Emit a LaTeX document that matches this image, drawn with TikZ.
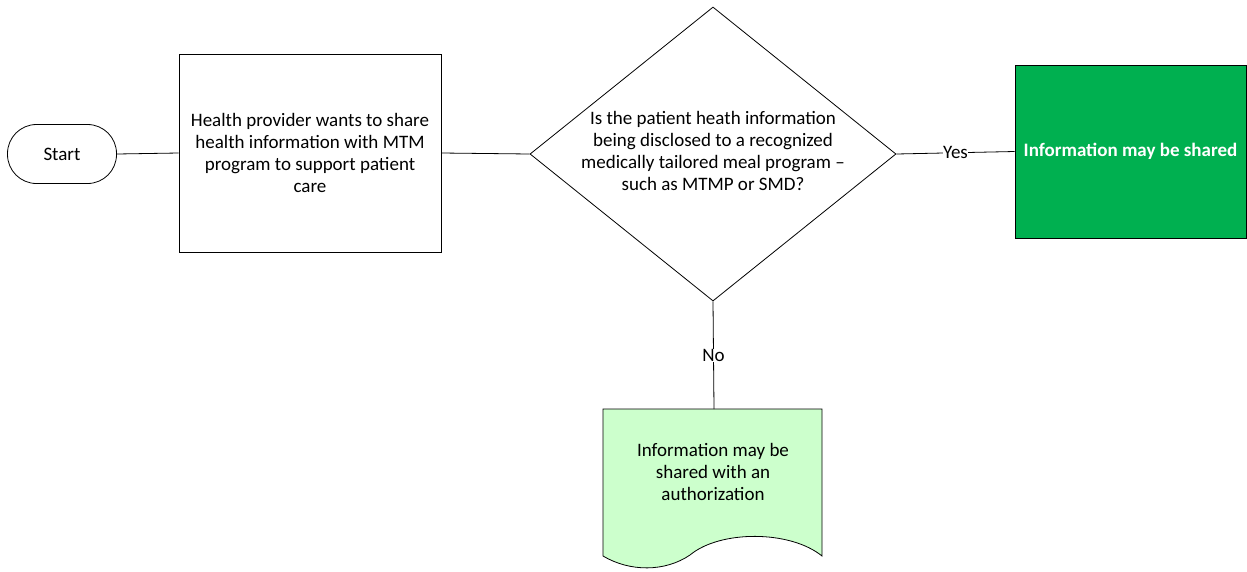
\documentclass[tikz,border=0pt]{standalone}
\usepackage{fontspec}
\setmainfont{Carlito}
\usetikzlibrary{shapes.geometric}
\definecolor{darkgreen}{HTML}{00B050}
\definecolor{lightgreen}{HTML}{CCFFCC}
\begin{document}
\begin{tikzpicture}[x=1pt,y=-1pt,
  every node/.style={font=\fontsize{19}{22.3}\selectfont},
  shp/.style={draw=black, line width=0.8pt},
  conn/.style={draw=black, line width=0.8pt},
  lbl/.style={fill=white, inner sep=0.5pt}]
\useasboundingbox (0,0) rectangle (1247,571);
\node[shp, rectangle, rounded corners=29pt, minimum width=109pt, minimum height=59pt] (start) at (62,154) {Start};
\node[shp, rectangle, minimum width=262pt, minimum height=198pt, align=center] (proc) at (310,153) {Health provider wants to share\\ health information with MTM\\ program to support patient\\ care};
\node[shp, diamond, minimum width=366pt, minimum height=294pt, inner sep=0pt] (dec) at (713,154) {};
\node[align=center] (dectext) at (713,151) {Is the patient heath information\\ being disclosed to a recognized\\ medically tailored meal program --\\ such as MTMP or SMD?};
\node[shp, rectangle, fill=darkgreen, minimum width=231pt, minimum height=173pt, text=white, font=\fontsize{19}{22.3}\selectfont\bfseries] (yes) at (1130.5,151.5) {Information may be shared};
\coordinate (doctop) at (714,409);
\draw[shp, fill=lightgreen] (603,409) -- (822,409) -- (822,556)
  .. controls (790,530) and (720,530) .. (690,555)
  .. controls (665,572) and (630,572) .. (603,556) -- cycle;
\node[align=center] (doc) at (713,472) {Information may be\\ shared with an\\ authorization};
\draw[conn] (start.east) -- (proc.west);
\draw[conn] (proc.east) -- (dec.west);
\draw[conn] (dec.east) -- node[lbl] (yeslbl) {Yes} (yes.west);
\draw[conn] (dec.south) -- node[lbl] (nolbl) {No} (doctop);
\end{tikzpicture}
\end{document}
